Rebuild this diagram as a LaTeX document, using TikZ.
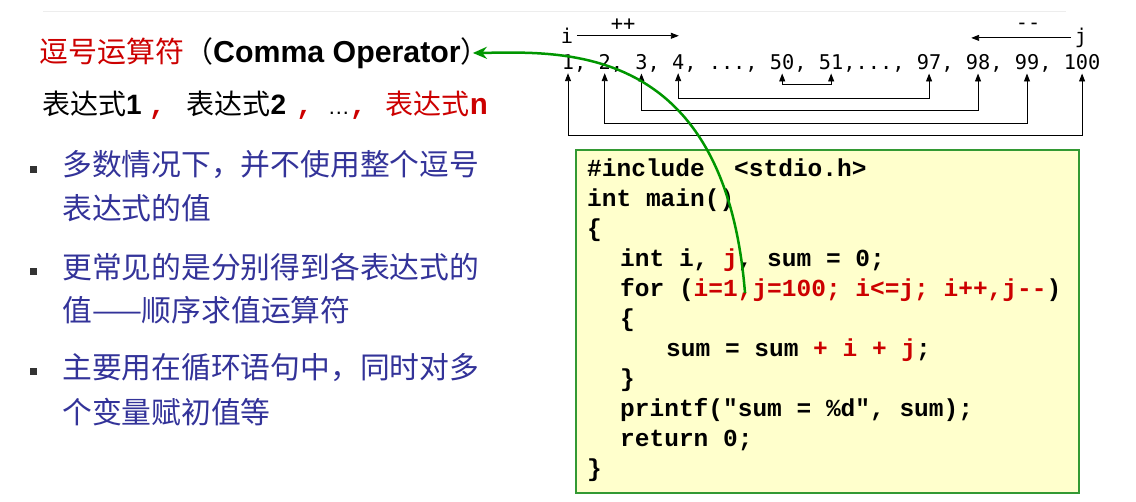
\documentclass[tikz,border=0pt]{standalone}
\usepackage{fontspec}
\setmainfont{Liberation Sans}
\setmonofont{Liberation Mono}
\newfontfamily\cjk{Noto Sans CJK SC}
\newfontfamily\numfont{DejaVu Sans Mono}
\usetikzlibrary{arrows.meta,positioning}

\definecolor{opred}{RGB}{204,0,0}
\definecolor{ptblue}{RGB}{51,51,153}
\definecolor{boxgreen}{RGB}{51,153,51}
\definecolor{boxfill}{RGB}{255,255,204}
\definecolor{arrowgreen}{RGB}{0,150,0}

\tikzset{
  txt/.style={anchor=west, inner sep=0pt},
  point/.style={txt, text=ptblue, font=\cjk\fontsize{29.8}{30}\selectfont},
  bulletsq/.style={fill=black!80, minimum size=7pt, inner sep=0pt},
  codebox/.style={draw=boxgreen, fill=boxfill, line width=2.5pt, minimum width=503pt, minimum height=343pt},
  codeline/.style={anchor=base west, inner sep=0pt, font=\ttfamily\bfseries\fontsize{24.5}{25}\selectfont},
  num/.style={anchor=base, inner sep=3.5pt, font=\numfont\fontsize{20.3}{21}\selectfont},
  pair/.style={{Triangle[length=8pt,width=6pt]}-{Triangle[length=8pt,width=6pt]}, line width=0.9pt},
  move/.style={-{Triangle[length=8pt,width=6pt]}, line width=0.9pt},
  commaarrow/.style={-{Stealth[length=14pt,width=12pt]}, draw=arrowgreen, line width=2.5pt}
}

\begin{document}
\begin{tikzpicture}[x=1pt, y=-1pt]
\useasboundingbox (0,0) rectangle (1136,502);
\draw[black!7, line width=1pt] (43,12) -- (1066,12);

% title and the general form
\node[txt, font=\cjk\fontsize{29}{30}\selectfont] (title) at (39,53)
  {{\color{opred}逗号运算符}（{\rmfamily\bfseries\fontsize{30.3}{31}\selectfont Comma Operator}）};
\node[txt, font=\cjk\fontsize{28}{30}\selectfont] (form) at (42,105)
  {表达式{\rmfamily\bfseries 1}\hspace{7pt}{\color{opred}\ttfamily\bfseries,}\hspace{21pt}%
   表达式{\rmfamily\bfseries 2}\hspace{10pt}{\color{opred}\ttfamily\bfseries,}\hspace{15pt}%
   {\rmfamily\fontsize{22}{24}\selectfont …}{\color{opred}\ttfamily\bfseries,}\hspace{19pt}%
   {\color{opred}表达式{\ttfamily\bfseries\fontsize{30}{30}\selectfont n}}};

% bullet points
\node[bulletsq] (b1) at (33,170) {};
\node[bulletsq] (b2) at (33,272) {};
\node[bulletsq] (b3) at (33,372) {};
\node[point] (p1a) at (62,165) {多数情况下，并不使用整个逗号};
\node[point] (p1b) at (62,208) {表达式的值};
\node[point] (p2a) at (62,267) {更常见的是分别得到各表达式的};
\node[point] (p2b) at (62,310) {值——顺序求值运算符};
\node[point] (p3a) at (62,368) {主要用在循环语句中，同时对多};
\node[point] (p3b) at (62,412) {个变量赋初值等};

% the row of values i and j walk over
\foreach \c/\t/\n in {0/1/n1, 3/2/n2, 6/3/n3, 9/4/n4, 17.5/50/n50, 21.5/51/n51,
    29.5/97/n97, 33.5/98/n98, 37.5/99/n99, 42/100/n100}
  \node[num] (\n) at ({568+\c*12.24},69.5) {\t};
\foreach \c/\t [count=\k] in {1/{,}, 4/{,}, 7/{,}, 10/{,}, 13.5/{...,}, 19/{,},
    25/{,...,}, 31/{,}, 35/{,}, 39/{,}}
  \node[num, inner sep=0pt] (s\k) at ({568+\c*12.24},69.5) {\t};

\node[num] (i) at (567,43.5) {i};
\node[num] (j) at (1081,43.5) {j};
\node[num] (inc) at (623,31) {++};
\node[num] (dec) at (1028,29.5) {-{}-};
\path (i.east) ++(102,0) coordinate (iend);
\path (j.west) ++(-100,0) coordinate (jend);
\draw[move] (i.east) -- (iend);
\draw[move] (j.west) -- (jend);

\foreach \a/\b/\y in {n50/n51/84, n4/n97/98, n3/n98/110, n2/n99/123, n1/n100/135}
  \draw[pair] (\a.south) |- (\b.south |- 0,\y) -- (\b.south);

% the program
\node[codebox] (code) at (827.5,321.5) {};
\foreach \k/\x/\t in {0/587/{\#include\ \ <stdio.h>}, 1/587/{int main()}, 2/587/{\{},
    3/620/{int i, {\color{opred}j}, sum = 0;},
    4/620/{for ({\color{opred}i=1,j=100; i<=j; i++,j-{}-})},
    5/620/{\{}, 6/666/{sum = sum {\color{opred}+ i + j};}, 7/620/{\}},
    8/620/{printf("sum = \%d", sum);}, 9/620/{return 0;}, 10/587/{\}}}
  \node[codeline] (c\k) at (\x,{177+30*\k}) {\t};

% from the comma in the for loop back to the title
\coordinate (forcomma) at (745,293);
\draw[commaarrow] (forcomma) .. controls (725,40) and (560,52) .. ([xshift=-17pt]title.east);
\end{tikzpicture}
\end{document}
